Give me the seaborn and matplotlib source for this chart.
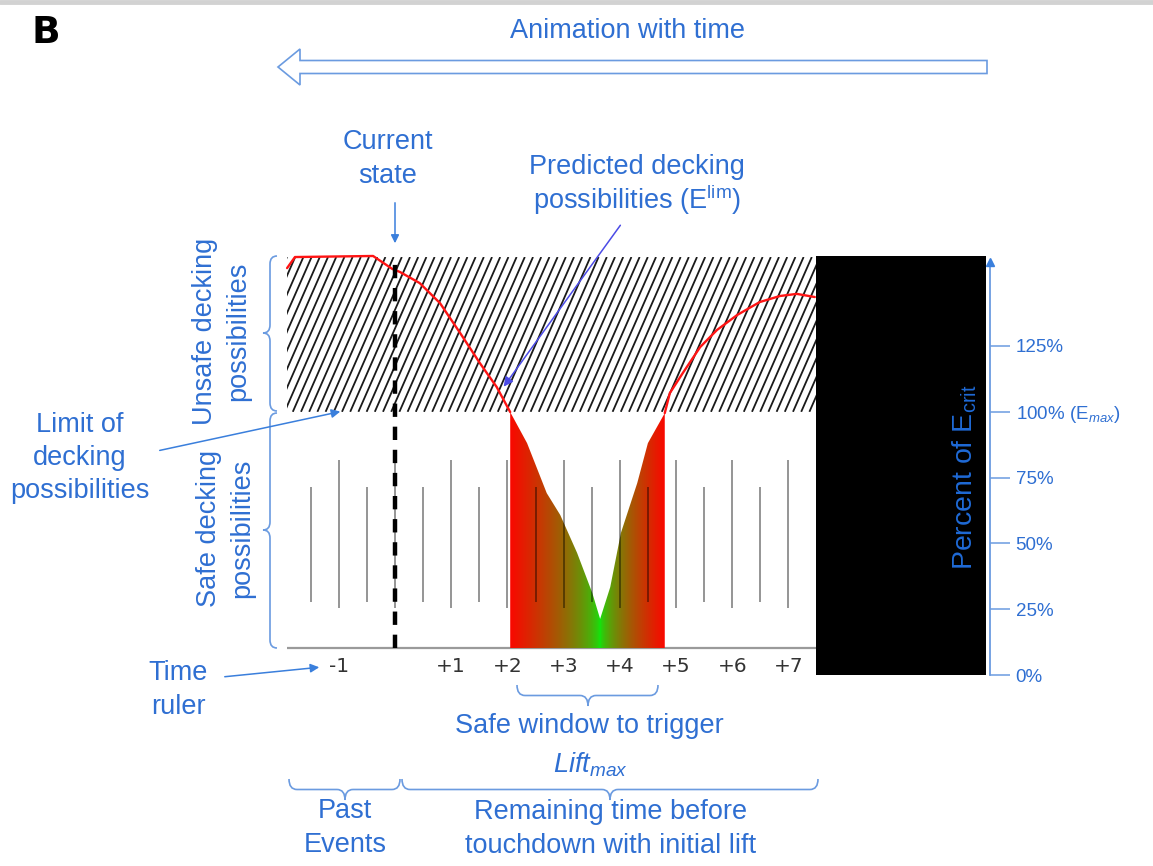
import numpy as np
import pandas as pd
import matplotlib
matplotlib.use("Agg")
import matplotlib.pyplot as plt
import seaborn as sns
from matplotlib.path import Path
from matplotlib.patches import PathPatch, Rectangle, FancyArrow
from matplotlib.collections import LineCollection

# ---------------- data ----------------
elim_time = [-1.92, -1.78, -0.39, -0.05, 0.09, 0.44, 0.80, 1.16, 1.51, 1.81, 2.05,
             2.35, 2.70, 2.94, 3.24, 3.51, 3.65, 3.83, 4.02, 4.31, 4.50, 4.80,
             4.89, 5.12, 5.43, 5.73, 6.09, 6.49, 6.85, 7.15, 7.47]
elim_pct = [154.6, 158.8, 159.2, 154.3, 153.1, 148.9, 141.3, 129.9, 118.5, 109.4, 99.9,
            88.1, 69.1, 60.8, 46.4, 31.2, 21.3, 33.4, 54.0, 72.9, 88.1, 99.5,
            107.1, 114.7, 124.6, 131.1, 136.8, 141.7, 144.0, 144.8, 143.6]
ruler_major = [-1, 0, 1, 2, 3, 4, 5, 6, 7]
ruler_minor = [-1.5, -0.5, 0.5, 1.5, 2.5, 3.5, 4.5, 5.5, 6.5]
ruler_label_pos = [-1, 1, 2, 3, 4, 5, 6, 7]
ruler_labels = ["-1", "+1", "+2", "+3", "+4", "+5", "+6", "+7"]
pct_ticks = [0, 25, 50, 75, 100, 125]
pct_labels = ["0%", "25%", "50%", "75%", "100% (E$_{max}$)", "125%"]
limit_pct = 100
current_time = 0
window = (2.05, 4.80)

# ---------------- style ----------------
sns.set_theme(style="white")
plt.rcParams["font.family"] = ["Liberation Sans", "DejaVu Sans"]
plt.rcParams["mathtext.fontset"] = "custom"
plt.rcParams["mathtext.rm"] = "Liberation Sans"
plt.rcParams["mathtext.it"] = "Liberation Sans:italic"
plt.rcParams["mathtext.bf"] = "Liberation Sans:bold"

BLUE = "#2f6fd2"
LBLUE = "#6b9be0"
ABLUE = "#3a7fdc"

W, H = 1153, 866
fig = plt.figure(figsize=(W / 100, H / 100), dpi=100)
fig.patch.set_facecolor("white")

# pixel mapping of chart axes
PX0, PXU, PY0, PYU = 395.0, 56.2, 675.0, 2.632
L, R, T, B = 250, 990, 250, 680
ax = fig.add_axes([L / W, (H - B) / H, (R - L) / W, (B - T) / H])
xlim = ((L - PX0) / PXU, (R - PX0) / PXU)
ylim = ((PY0 - B) / PYU, (PY0 - T) / PYU)

hx0, hx1 = (287 - PX0) / PXU, (816 - PX0) / PXU
htop = (PY0 - 257) / PYU
base = (PY0 - 648) / PYU

# hatched unsafe region
rect = Rectangle((hx0, limit_pct), hx1 - hx0, htop - limit_pct, facecolor="white",
                 edgecolor="none", zorder=1)
ax.add_patch(rect)
dxh = 68 / PXU
sp = 8.2 / PXU
segs = [[(xb, limit_pct), (xb + dxh, htop)] for xb in np.arange(hx0 - dxh, hx1 + sp, sp)]
lc = LineCollection(segs, colors="#1a1a1a", linewidths=1.3, zorder=2)
ax.add_collection(lc)
lc.set_clip_path(rect)

# baseline and ruler
ax.hlines(base, hx0, hx1, color="#9a9a9a", lw=1.6, zorder=3)
ax.vlines(ruler_major, 25.5, 81.7, color="black", alpha=0.45, lw=1.3, zorder=4)
ax.vlines(ruler_minor, 27.7, 71.4, color="black", alpha=0.45, lw=1.3, zorder=4)
for p, lab in zip(ruler_label_pos, ruler_labels):
    ax.text(p, (PY0 - 666) / PYU, lab, ha="center", va="center", fontsize=14.5,
            color="#333333", family="DejaVu Sans", zorder=5)

# gradient safe window
t = np.array(elim_time)
y = np.array(elim_pct)
inw = (t >= window[0] - 1e-9) & (t <= window[1] + 1e-9)
tw, yw = t[inw], y[inw]
tmin = t[np.argmin(y)]
xs = np.linspace(window[0], window[1], 500)
f = np.where(xs < tmin, (tmin - xs) / (tmin - window[0]), (xs - tmin) / (window[1] - tmin))
f = np.clip(f, 0, 1) ** 0.6
red = np.array([0.98, 0.03, 0.0])
green = np.array([0.05, 0.92, 0.05])
img = (f[:, None] * red + (1 - f[:, None]) * green)[None, :, :]
im = ax.imshow(img, extent=[window[0], window[1], base, limit_pct], aspect="auto",
               origin="lower", zorder=3, interpolation="bilinear")
poly = ax.fill_between(tw, base, yw, facecolor="none", edgecolor="none")
im.set_clip_path(poly.get_paths()[0], transform=ax.transData)

# red E_lim curve (only above limit)
pre = (y >= limit_pct - 1) & (t < tmin)
post = (y >= limit_pct - 1) & (t > tmin)
for m in (pre, post):
    sns.lineplot(x=t[m], y=y[m], ax=ax, color="#ff1414", lw=1.7, sort=False,
                 estimator=None, zorder=6)

# current state dashed line
ax.vlines(current_time, base, htop, colors="black", lw=3.2,
          linestyles=(0, (3, 2.2)), zorder=7)

# black future block
ax.add_patch(Rectangle(((816 - PX0) / PXU, 0), (986 - 816) / PXU, (PY0 - 256) / PYU,
                       facecolor="black", edgecolor="none", zorder=5))

# right percent axis
ax.set_xlim(*xlim)
ax.set_ylim(*ylim)
ax.set_facecolor("none")
for s in ("left", "top", "bottom"):
    ax.spines[s].set_visible(False)
ax.spines["right"].set_color(LBLUE)
ax.spines["right"].set_linewidth(1.3)
ax.spines["right"].set_bounds(0, (PY0 - 262) / PYU)
ax.set_xticks([])
ax.yaxis.tick_right()
ax.set_yticks(pct_ticks)
ax.set_yticklabels(pct_labels)
ax.tick_params(axis="y", right=True, left=False, direction="out", length=14.5, width=1.1,
               color=LBLUE, labelcolor=BLUE, labelsize=13.5, pad=4)
ax.plot([xlim[1]], [(PY0 - 262) / PYU], marker="^", color=ABLUE, ms=6, clip_on=False,
        zorder=8)

# ---------------- overlay annotations (pixel space) ----------------
ov = fig.add_axes([0, 0, 1, 1], zorder=5)
ov.set_xlim(0, W)
ov.set_ylim(H, 0)
ov.axis("off")
ov.patch.set_alpha(0)

ov.axhline(1.5, color="#d2d2d2", lw=3.5)
ov.text(46, 33, "B", fontsize=27, fontweight="bold", ha="center", va="center",
        color="black", family="DejaVu Sans")
ov.text(627, 31, "Animation with time", fontsize=19.5, color=BLUE, ha="center", va="center")
ov.add_patch(FancyArrow(987, 67, -709, 0, width=13, head_width=36, head_length=22,
                        length_includes_head=True, facecolor="white", edgecolor=LBLUE,
                        lw=1.2))

tk = dict(fontsize=19.5, color=BLUE, ha="center", va="center", linespacing=1.36)
ov.text(388, 159, "Current\nstate", **tk)
ov.annotate("", xy=(395, 246), xytext=(395, 200),
            arrowprops=dict(arrowstyle="-|>", color=ABLUE, lw=1.1, mutation_scale=12))
ov.text(637, 167, "Predicted decking", **tk)
ov.text(637, 200, "possibilities (E$^{\\mathrm{lim}}$)", **tk)
ov.annotate("", xy=(502, 389), xytext=(622, 223),
            arrowprops=dict(arrowstyle="-|>", color="#4b4be6", lw=1.1, mutation_scale=14))
ov.text(222, 331, "Unsafe decking\npossibilities", rotation=90, **tk)
ov.text(226, 528, "Safe decking\npossibilities", rotation=90, **tk)
ov.text(80, 458, "Limit of\ndecking\npossibilities", **tk)
ov.annotate("", xy=(343, 411), xytext=(157, 451),
            arrowprops=dict(arrowstyle="-|>", color=ABLUE, lw=1.1, mutation_scale=13))
ov.text(178, 690, "Time\nruler", **tk)
ov.annotate("", xy=(322, 667), xytext=(222, 677),
            arrowprops=dict(arrowstyle="-|>", color=ABLUE, lw=1.1, mutation_scale=13))
ov.text(589, 726, "Safe window to trigger", **tk)
ov.text(590, 765, "$\\mathit{Lift}_{\\mathit{max}}$", **tk)
ov.text(345, 828, "Past\nEvents", **tk)
ov.text(611, 829, "Remaining time before\ntouchdown with initial lift", **tk)
ov.text(965, 477, "Percent of E$_{\\mathrm{crit}}$", rotation=90, fontsize=20.5,
        color="#1f6ad6", ha="center", va="center")


def hbrace(a, x0, x1, xc, y_end, y_cusp, r=8):
    ym = (y_end + y_cusp) / 2
    v = [(x0, y_end), (x0, ym), (x0 + r, ym), (xc - r, ym), (xc, ym), (xc, y_cusp),
         (xc, ym), (xc + r, ym), (x1 - r, ym), (x1, ym), (x1, y_end)]
    c = [Path.MOVETO, Path.CURVE3, Path.CURVE3, Path.LINETO, Path.CURVE3, Path.CURVE3,
         Path.CURVE3, Path.CURVE3, Path.LINETO, Path.CURVE3, Path.CURVE3]
    a.add_patch(PathPatch(Path(v, c), facecolor="none", edgecolor=LBLUE, lw=1.2))


def vbrace(a, y0, y1, yc, x_end, x_cusp, r=8):
    xm = (x_end + x_cusp) / 2
    v = [(x_end, y0), (xm, y0), (xm, y0 + r), (xm, yc - r), (xm, yc), (x_cusp, yc),
         (xm, yc), (xm, yc + r), (xm, y1 - r), (xm, y1), (x_end, y1)]
    c = [Path.MOVETO, Path.CURVE3, Path.CURVE3, Path.LINETO, Path.CURVE3, Path.CURVE3,
         Path.CURVE3, Path.CURVE3, Path.LINETO, Path.CURVE3, Path.CURVE3]
    a.add_patch(PathPatch(Path(v, c), facecolor="none", edgecolor=LBLUE, lw=1.2))


vbrace(ov, 256, 411, 333, 277, 263)
vbrace(ov, 413, 648, 530, 277, 263)
hbrace(ov, 517, 658, 588, 685, 706)
hbrace(ov, 289, 400, 345, 779, 800)
hbrace(ov, 402, 818, 610, 779, 800)

fig.savefig("out.png", dpi=100)
